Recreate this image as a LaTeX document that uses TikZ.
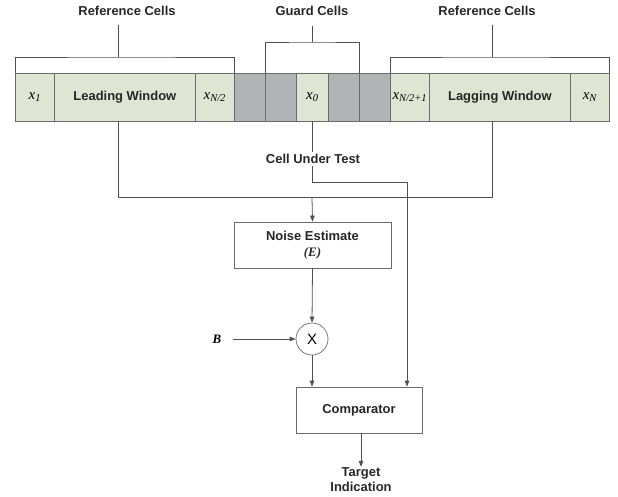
\documentclass[tikz,border=0pt]{standalone}
\usepackage{fontspec}
\setmainfont{Liberation Sans}
\newfontfamily\seriffam{Liberation Serif}
\usetikzlibrary{arrows.meta}

\definecolor{cellgreen}{HTML}{E0E5D3}
\definecolor{guardgray}{HTML}{B2B3B5}
\definecolor{linegray}{HTML}{505050}
\definecolor{boxgray}{HTML}{6A6A6A}

\newcommand{\cellvar}[1]{{\seriffam\itshape\fontsize{15}{16}\selectfont x\textsubscript{#1}}}

\begin{document}
\begin{tikzpicture}[x=1bp,y=-1bp,
  cellbox/.style={draw=boxgray, line width=0.7pt, fill=cellgreen, minimum height=48bp, inner sep=0pt, anchor=west},
  guardbox/.style={cellbox, fill=guardgray},
  lbl/.style={font=\bfseries\fontsize{13}{15}\selectfont, text=black!85, align=center},
  blockbox/.style={draw=boxgray, line width=0.7pt, fill=white, inner sep=0pt, align=center,
    font=\bfseries\fontsize{13}{15}\selectfont, text=black!85},
  wire/.style={draw=linegray, line width=0.8pt},
  arr/.style={wire, -{Triangle[length=6bp,width=4.5bp]}}
]
\useasboundingbox (0,0) rectangle (618,497);

% reference and guard cell row
\node[cellbox, minimum width=39bp]  (c1) at (15,97)  {\cellvar{1}};
\node[cellbox, minimum width=141bp, lbl] (c2) at (54,97) {Leading Window};
\node[cellbox, minimum width=39bp]  (c3) at (195,97) {\cellvar{N/2}};
\node[guardbox, minimum width=31bp] (g1) at (234,97) {};
\node[guardbox, minimum width=31bp] (g2) at (265,97) {};
\node[cellbox, minimum width=32bp]  (c0) at (296,97) {\cellvar{0}};
\node[guardbox, minimum width=31bp] (g3) at (328,97) {};
\node[guardbox, minimum width=31bp] (g4) at (359,97) {};
\node[cellbox, minimum width=39bp]  (c4) at (390,97) {\cellvar{N/2+1}};
\node[cellbox, minimum width=141bp, lbl] (c5) at (429,97) {Lagging Window};
\node[cellbox, minimum width=39bp]  (c6) at (570,97) {\cellvar{N}};

% group labels
\node[lbl] (lref) at (127,11) {Reference Cells};
\node[lbl] (gref) at (312,11) {Guard Cells};
\node[lbl] (rref) at (487,11) {Reference Cells};

\coordinate (ls) at (118,57);
\coordinate (gs) at (312,42);
\coordinate (rs) at (492,57);

% brackets
\draw[wire] (c1.north west) |- (ls) -| (c3.north east);
\draw[wire] (ls) -- (118,25);
\draw[wire] (g2.north west) |- (gs) -| (g3.north east);
\draw[wire] (gs) -- (312,26);
\draw[wire] (c4.north west) |- (rs) -| (c6.north east);
\draw[wire] (rs) -- (492,25);

% processing blocks
\node[blockbox, minimum width=157bp, minimum height=46bp] (noise) at (312.5,245)
  {Noise Estimate\\[1bp]{\seriffam\itshape (E)}};
\node[draw=boxgray, line width=0.7pt, circle, minimum size=32bp, inner sep=0pt,
  font=\fontsize{15}{16}\selectfont] (mul) at (312,339) {X};
\node[font=\seriffam\itshape\bfseries\fontsize{13}{14}\selectfont] (bin) at (217,339) {B};
\node[blockbox, minimum width=126bp, minimum height=46bp] (comp) at (359,410) {Comparator};
\node[lbl, inner sep=1bp] (out) at (361,480) {Target\\Indication};

\coordinate (bus) at (312,197.5);
\coordinate (cutbend) at (407,182.5);

% averaging of the two windows
\draw[wire] (c2.south -| ls) |- (bus) -| (c5.south -| rs);
\draw[arr] (bus) -- (noise.north);

% cell under test to comparator
\draw[arr] (c0.south) |- (cutbend) -- (comp.north -| cutbend);
\node[lbl, fill=white, inner sep=2bp] (cut) at (313,159) {Cell Under Test};

% threshold scaling and decision
\draw[arr] (noise.south) -- (mul.north);
\draw[arr] ([xshift=8bp]bin.east) -- (mul.west);
\draw[arr] (mul.south) -- (comp.north -| mul);
\draw[arr] (comp.south -| out) -- (out.north);
\end{tikzpicture}
\end{document}
